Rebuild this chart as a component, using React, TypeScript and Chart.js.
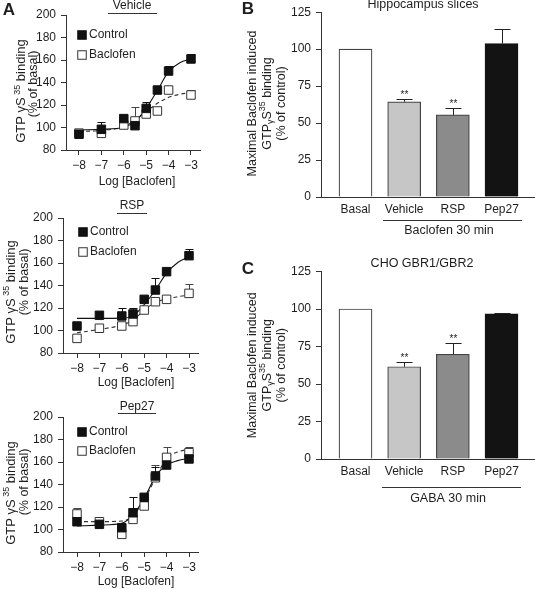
import React, { useEffect, useRef } from "react";
import { Chart, registerables } from "chart.js";
Chart.register(...registerables);

const W = 535;
const H = 589;
const FONT = "'Liberation Sans', Arial, Helvetica, sans-serif";
const INK = "#1e1e1e";
const AX = "#333333";

// ---------- Panel A data (log [Baclofen]) ----------
const logDoses = [-8, -7, -6, -5.5, -5, -4.5, -4, -3];
const fitDoses = [-8, -7, -6, -5.5, -5, -4.5, -4, -3.5, -3];
const xTickValues = [-8, -7, -6, -5, -4, -3];
const xTickLabels = ["\u22128", "\u22127", "\u22126", "\u22125", "\u22124", "\u22123"];
const yTicksA = [80, 100, 120, 140, 160, 180, 200];

// Vehicle
const vehControl = [94, 98.4, 107.9, 101.6, 117, 133.3, 150.2, 160.9];
const vehControlErr = [0, 6.8, 0, 0, 5.9, 0, 4.5, 4.1];
const vehBaclofen = [95, 94.8, 102.2, 105.8, 112, 114.7, 133.3, 128.9];
const vehBaclofenErr = [0, 0, 0, 12.7, 0, 0, 0, 4.4];
const vehControlFit = [97.8, 98.4, 100.2, 105.2, 117, 133, 149.6, 157.6, 160.9];
const vehBaclofenFit = [96.3, 97.5, 100.7, 106.7, 114, 121.5, 126.8, 129.5, 131];

// RSP
const rspControl = [104, 113.5, 112.9, 114.7, 127.7, 136, 152.3, 166.5];
const rspControlErr = [0, 0, 6.8, 5, 0, 10.4, 0, 5.6];
const rspBaclofen = [93, 102, 104, 107.9, 118.2, 125.6, 127.7, 133];
const rspBaclofenErr = [0, 0, 0, 0, 0, 0, 0, 8];
const rspControlFit = [110.8, 110.8, 111, 113, 123, 136, 151, 160.5, 165.5];
const rspBaclofenFit = [98, 101, 104.9, 109.3, 118, 125, 128, 130, 131.6];

// Pep27
const pepControl = [106.9, 104.6, 101.6, 114.9, 128.6, 147.6, 157.3, 162.7];
const pepControlErr = [0, 0, 0, 14.3, 0, 8, 0, 0];
const pepBaclofen = [113.8, 106.9, 95.7, 109, 120.9, 146, 164.1, 168.3];
const pepBaclofenErr = [5.6, 0, 0, 0, 0, 11, 8.9, 4.7];
const pepControlFit = [103.1, 103.9, 105.5, 112.9, 127.7, 147, 157.3, 161.2, 163.2];
const pepBaclofenFit = [107, 107, 107.5, 112.5, 126.2, 145.5, 163.2, 169, 171.3];

// ---------- Panels B / C data ----------
const barCategories = ["Basal", "Vehicle", "RSP", "Pep27"];
const barYTicks = [0, 25, 50, 75, 100, 125];
const hippoValues = [100, 64.4, 55.5, 103.8];
const hippoErr = [0, 2, 4.9, 9.6];
const hippoSig = ["", "**", "**", ""];
const choValues = [100, 61.5, 69.8, 96.7];
const choErr = [0, 3.4, 7.7, 0.4];
const choSig = ["", "**", "**", ""];
const barFills = ["#ffffff", "#c6c6c6", "#8b8b8b", "#131313"];
const barEdges = ["#444444", "#444444", "#444444", "#131313"];

type Seg = { t: string; kind?: "sup" | "sub" };

function drawRich(ctx: CanvasRenderingContext2D, segs: Seg[], cx: number, cy: number, size: number, rotate: boolean) {
  ctx.save();
  ctx.translate(cx, cy);
  if (rotate) ctx.rotate(-Math.PI / 2);
  const small = Math.round(size * 0.68);
  let total = 0;
  const widths: number[] = [];
  for (const s of segs) {
    ctx.font = `${s.kind ? small : size}px ${FONT}`;
    const w = ctx.measureText(s.t).width;
    widths.push(w);
    total += w;
  }
  let x = -total / 2;
  const base = size * 0.36;
  ctx.textBaseline = "alphabetic";
  ctx.textAlign = "left";
  ctx.fillStyle = INK;
  segs.forEach((s, i) => {
    ctx.font = `${s.kind ? small : size}px ${FONT}`;
    let y = base;
    if (s.kind === "sup") y = base - size * 0.42;
    if (s.kind === "sub") y = base + size * 0.22;
    ctx.fillText(s.t, x, y);
    x += widths[i];
  });
  ctx.restore();
}

function text(ctx: CanvasRenderingContext2D, t: string, x: number, y: number, size: number, bold = false, align: CanvasTextAlign = "center") {
  ctx.save();
  ctx.font = `${bold ? "bold " : ""}${size}px ${FONT}`;
  ctx.fillStyle = INK;
  ctx.textAlign = align;
  ctx.textBaseline = "middle";
  ctx.fillText(t, x, y);
  ctx.restore();
}

function hline(ctx: CanvasRenderingContext2D, x1: number, x2: number, y: number) {
  ctx.save();
  ctx.strokeStyle = AX;
  ctx.lineWidth = 1;
  ctx.beginPath();
  ctx.moveTo(x1, y + 0.5);
  ctx.lineTo(x2, y + 0.5);
  ctx.stroke();
  ctx.restore();
}

function square(ctx: CanvasRenderingContext2D, x: number, y: number, filled: boolean) {
  const s = 8.5;
  ctx.save();
  ctx.fillStyle = filled ? "#111" : "#fff";
  ctx.strokeStyle = filled ? "#111" : "#333";
  ctx.lineWidth = 1;
  ctx.fillRect(x - s / 2, y - s / 2, s, s);
  ctx.strokeRect(x - s / 2, y - s / 2, s, s);
  ctx.restore();
}

type Area = { l: number; t: number; r: number; b: number };

const YW = 50;
const XH = 30;

function padFor(a: Area) {
  return { left: a.l - YW, top: a.t, right: W - a.r, bottom: H - a.b - XH };
}

type DoseCfg = {
  area: Area;
  xmin: number;
  xmax: number;
  control: number[];
  controlErr: number[];
  baclofen: number[];
  baclofenErr: number[];
  controlFit: number[];
  baclofenFit: number[];
  title: string;
  titleX: number;
  titleY: number;
  ul: [number, number, number];
  legendX: number;
  legendY: [number, number];
  yTitle1: [number, number];
  yTitle2: [number, number];
  xTitle: [number, number];
  letter?: [number, number];
};

function makeDose(canvas: HTMLCanvasElement, c: DoseCfg) {
  const pts = (arr: number[], xs: number[]) => arr.map((v, i) => ({ x: xs[i], y: v }));
  const annot = {
    id: "annotDose",
    beforeDatasetsDraw(chart: any) {
      const ctx = chart.ctx as CanvasRenderingContext2D;
      const xs = chart.scales.x;
      const ys = chart.scales.y;
      const bars = [
        { v: c.baclofen, e: c.baclofenErr, col: "#444" },
        { v: c.control, e: c.controlErr, col: "#111" },
      ];
      ctx.save();
      ctx.lineWidth = 1;
      for (const b of bars) {
        ctx.strokeStyle = b.col;
        b.v.forEach((v, i) => {
          if (!b.e[i]) return;
          const x = Math.round(xs.getPixelForValue(logDoses[i])) + 0.5;
          const y0 = ys.getPixelForValue(v);
          const y1 = Math.round(ys.getPixelForValue(v + b.e[i])) + 0.5;
          ctx.beginPath();
          ctx.moveTo(x, y0);
          ctx.lineTo(x, y1);
          ctx.moveTo(x - 4, y1);
          ctx.lineTo(x + 4, y1);
          ctx.stroke();
        });
      }
      ctx.restore();
    },
    afterDraw(chart: any) {
      const ctx = chart.ctx as CanvasRenderingContext2D;
      if (c.letter) text(ctx, "A", c.letter[0], c.letter[1], 17, true);
      text(ctx, c.title, c.titleX, c.titleY, 12);
      hline(ctx, c.ul[0], c.ul[1], c.ul[2]);
      square(ctx, c.legendX, c.legendY[0], true);
      square(ctx, c.legendX, c.legendY[1], false);
      text(ctx, "Control", c.legendX + 7, c.legendY[0], 12, false, "left");
      text(ctx, "Baclofen", c.legendX + 7, c.legendY[1], 12, false, "left");
      drawRich(ctx, [{ t: "GTP \u03B3S" }, { t: " 35", kind: "sup" }, { t: " binding" }], c.yTitle1[0], c.yTitle1[1], 13, true);
      drawRich(ctx, [{ t: "(% of basal)" }], c.yTitle2[0], c.yTitle2[1], 12.5, true);
      text(ctx, "Log [Baclofen]", c.xTitle[0], c.xTitle[1], 12);
    },
  };
  return new Chart(canvas, {
    type: "scatter",
    data: {
      datasets: [
        {
          data: pts(c.control, logDoses),
          pointStyle: "rect",
          pointRadius: 6,
          backgroundColor: "#111",
          borderColor: "#111",
          borderWidth: 1,
          showLine: false,
        },
        {
          data: pts(c.baclofen, logDoses),
          pointStyle: "rect",
          pointRadius: 6,
          backgroundColor: "#fff",
          borderColor: "#333",
          borderWidth: 1,
          showLine: false,
        },
        {
          data: pts(c.controlFit, fitDoses),
          pointRadius: 0,
          showLine: true,
          borderColor: "#111",
          borderWidth: 1.1,
          cubicInterpolationMode: "monotone",
        },
        {
          data: pts(c.baclofenFit, fitDoses),
          pointRadius: 0,
          showLine: true,
          borderColor: "#333",
          borderWidth: 1.1,
          borderDash: [4, 3],
          cubicInterpolationMode: "monotone",
        },
      ],
    } as any,
    options: {
      responsive: false,
      devicePixelRatio: 1,
      animation: false,
      events: [],
      layout: { padding: padFor(c.area) },
      plugins: { legend: { display: false }, tooltip: { enabled: false }, title: { display: false } },
      scales: {
        x: {
          type: "linear",
          min: c.xmin,
          max: c.xmax,
          afterFit: (s: any) => {
            s.height = XH;
          },
          afterBuildTicks: (s: any) => {
            s.ticks = xTickValues.map((v) => ({ value: v }));
          },
          ticks: {
            callback: (v: any) => {
              const i = xTickValues.indexOf(Number(v));
              return i >= 0 ? xTickLabels[i] : "";
            },
            font: { family: FONT, size: 12 },
            color: INK,
            padding: 3,
            maxRotation: 0,
            autoSkip: false,
          },
          grid: { display: true, drawOnChartArea: false, drawTicks: true, tickLength: 5, color: AX, lineWidth: 1 },
          border: { display: true, color: AX, width: 1 },
        },
        y: {
          type: "linear",
          min: 80,
          max: 200,
          afterFit: (s: any) => {
            s.width = YW;
          },
          afterBuildTicks: (s: any) => {
            s.ticks = yTicksA.map((v) => ({ value: v }));
          },
          ticks: { font: { family: FONT, size: 12 }, color: INK, padding: 5 },
          grid: { display: true, drawOnChartArea: false, drawTicks: true, tickLength: 5, color: AX, lineWidth: 1 },
          border: { display: true, color: AX, width: 1 },
        },
      },
    } as any,
    plugins: [annot],
  });
}

type BarCfg = {
  area: Area;
  values: number[];
  errs: number[];
  sig: string[];
  letter: string;
  letterPos: [number, number];
  title: string;
  titlePos: [number, number];
  group: string;
  groupLine: [number, number, number];
  groupPos: [number, number];
  yTitleX: [number, number, number];
};

function makeBar(canvas: HTMLCanvasElement, c: BarCfg) {
  const xmin = 0.291;
  const xmax = xmin + (c.area.r - c.area.l) / 48.67;
  const annot = {
    id: "annotBar",
    afterDatasetsDraw(chart: any) {
      const ctx = chart.ctx as CanvasRenderingContext2D;
      const meta = chart.getDatasetMeta(0);
      const ys = chart.scales.y;
      ctx.save();
      ctx.strokeStyle = "#222";
      ctx.lineWidth = 1;
      c.values.forEach((v, i) => {
        const el = meta.data[i];
        const x = Math.round(el.x) + 0.5;
        const y0 = ys.getPixelForValue(v);
        const y1 = Math.round(ys.getPixelForValue(v + c.errs[i])) + 0.5;
        if (c.errs[i]) {
          ctx.beginPath();
          ctx.moveTo(x, y0);
          ctx.lineTo(x, y1);
          ctx.moveTo(x - 8, y1);
          ctx.lineTo(x + 8, y1);
          ctx.stroke();
        }
        if (c.sig[i]) text(ctx, c.sig[i], x, y1 - 4, 10);
      });
      ctx.restore();
    },
    afterDraw(chart: any) {
      const ctx = chart.ctx as CanvasRenderingContext2D;
      text(ctx, c.letter, c.letterPos[0], c.letterPos[1], 17, true);
      text(ctx, c.title, c.titlePos[0], c.titlePos[1], 12.5);
      hline(ctx, c.groupLine[0], c.groupLine[1], c.groupLine[2]);
      text(ctx, c.group, c.groupPos[0], c.groupPos[1], 12.5);
      const cy = (c.area.t + c.area.b) / 2;
      drawRich(ctx, [{ t: "Maximal Baclofen induced" }], c.yTitleX[0], cy, 12.5, true);
      drawRich(
        ctx,
        [{ t: "GTP" }, { t: "\u03B3", kind: "sub" }, { t: "S" }, { t: "35", kind: "sup" }, { t: " binding" }],
        c.yTitleX[1],
        cy,
        12.5,
        true
      );
      drawRich(ctx, [{ t: "(% of control)" }], c.yTitleX[2], cy, 12.5, true);
    },
  };
  return new Chart(canvas, {
    type: "bar",
    data: {
      datasets: [
        {
          data: c.values.map((v, i) => ({ x: i + 1, y: v })),
          backgroundColor: barFills,
          borderColor: barEdges,
          borderWidth: 1.2,
          barThickness: 33,
        },
      ],
    } as any,
    options: {
      responsive: false,
      devicePixelRatio: 1,
      animation: false,
      events: [],
      layout: { padding: padFor(c.area) },
      plugins: { legend: { display: false }, tooltip: { enabled: false }, title: { display: false } },
      scales: {
        x: {
          type: "linear",
          min: xmin,
          max: xmax,
          offset: false,
          afterFit: (s: any) => {
            s.height = XH;
          },
          afterBuildTicks: (s: any) => {
            s.ticks = barCategories.map((_, i) => ({ value: i + 1 }));
          },
          ticks: {
            callback: (v: any) => barCategories[Number(v) - 1] ?? "",
            font: { family: FONT, size: 12 },
            color: INK,
            padding: 5,
            maxRotation: 0,
            autoSkip: false,
          },
          grid: { display: true, offset: false, drawOnChartArea: false, drawTicks: false, color: AX },
          border: { display: true, color: AX, width: 1 },
        },
        y: {
          type: "linear",
          min: 0,
          max: 125,
          afterFit: (s: any) => {
            s.width = YW;
          },
          afterBuildTicks: (s: any) => {
            s.ticks = barYTicks.map((v) => ({ value: v }));
          },
          ticks: { font: { family: FONT, size: 12 }, color: INK, padding: 5 },
          grid: { display: true, drawOnChartArea: false, drawTicks: true, tickLength: 5, color: AX, lineWidth: 1 },
          border: { display: true, color: AX, width: 1 },
        },
      },
    } as any,
    plugins: [annot],
  });
}

export default function App() {
  const r1 = useRef<HTMLCanvasElement>(null);
  const r2 = useRef<HTMLCanvasElement>(null);
  const r3 = useRef<HTMLCanvasElement>(null);
  const r4 = useRef<HTMLCanvasElement>(null);
  const r5 = useRef<HTMLCanvasElement>(null);

  useEffect(() => {
    const charts: Chart[] = [];
    charts.push(
      makeDose(r1.current!, {
        area: { l: 66, t: 15, r: 200, b: 150 },
        xmin: -8.58,
        xmax: -8.58 + 134 / 22.4,
        control: vehControl,
        controlErr: vehControlErr,
        baclofen: vehBaclofen,
        baclofenErr: vehBaclofenErr,
        controlFit: vehControlFit,
        baclofenFit: vehBaclofenFit,
        title: "Vehicle",
        titleX: 132,
        titleY: 6,
        ul: [108, 157, 13],
        legendX: 82,
        legendY: [35, 55],
        yTitle1: [20.5, 91],
        yTitle2: [32, 84],
        xTitle: [137, 182],
        letter: [9, 10],
      })
    );
    charts.push(
      makeDose(r2.current!, {
        area: { l: 63, t: 218, r: 198, b: 353 },
        xmin: -8.625,
        xmax: -8.625 + 135 / 22.4,
        control: rspControl,
        controlErr: rspControlErr,
        baclofen: rspBaclofen,
        baclofenErr: rspBaclofenErr,
        controlFit: rspControlFit,
        baclofenFit: rspBaclofenFit,
        title: "RSP",
        titleX: 132,
        titleY: 206,
        ul: [117, 147, 213],
        legendX: 83,
        legendY: [232, 252],
        yTitle1: [10, 292],
        yTitle2: [23, 282],
        xTitle: [136, 383],
      })
    );
    charts.push(
      makeDose(r3.current!, {
        area: { l: 63, t: 417, r: 198, b: 552 },
        xmin: -8.625,
        xmax: -8.625 + 135 / 22.4,
        control: pepControl,
        controlErr: pepControlErr,
        baclofen: pepBaclofen,
        baclofenErr: pepBaclofenErr,
        controlFit: pepControlFit,
        baclofenFit: pepBaclofenFit,
        title: "Pep27",
        titleX: 137,
        titleY: 407,
        ul: [118, 156, 413],
        legendX: 82,
        legendY: [432, 451],
        yTitle1: [10, 493],
        yTitle2: [23, 482],
        xTitle: [136, 582],
      })
    );
    charts.push(
      makeBar(r4.current!, {
        area: { l: 321, t: 10, r: 535, b: 197 },
        values: hippoValues,
        errs: hippoErr,
        sig: hippoSig,
        letter: "B",
        letterPos: [248, 9],
        title: "Hippocampus slices",
        titlePos: [423, 5],
        group: "Baclofen 30 min",
        groupLine: [383, 522, 220],
        groupPos: [449, 231],
        yTitleX: [251, 266, 280],
      })
    );
    charts.push(
      makeBar(r5.current!, {
        area: { l: 321, t: 271.5, r: 535, b: 459 },
        values: choValues,
        errs: choErr,
        sig: choSig,
        letter: "C",
        letterPos: [248, 269],
        title: "CHO GBR1/GBR2",
        titlePos: [422, 264],
        group: "GABA 30 min",
        groupLine: [382, 521, 487],
        groupPos: [448, 499],
        yTitleX: [251, 266, 280],
      })
    );
    return () => charts.forEach((ch) => ch.destroy());
  }, []);

  const cs: React.CSSProperties = { position: "absolute", left: 0, top: 0, width: W, height: H };
  return (
    <div style={{ position: "absolute", left: 0, top: 0, width: W, height: H, background: "#fff", overflow: "hidden" }}>
      <canvas ref={r1} width={W} height={H} style={cs} />
      <canvas ref={r2} width={W} height={H} style={cs} />
      <canvas ref={r3} width={W} height={H} style={cs} />
      <canvas ref={r4} width={W} height={H} style={cs} />
      <canvas ref={r5} width={W} height={H} style={cs} />
    </div>
  );
}
